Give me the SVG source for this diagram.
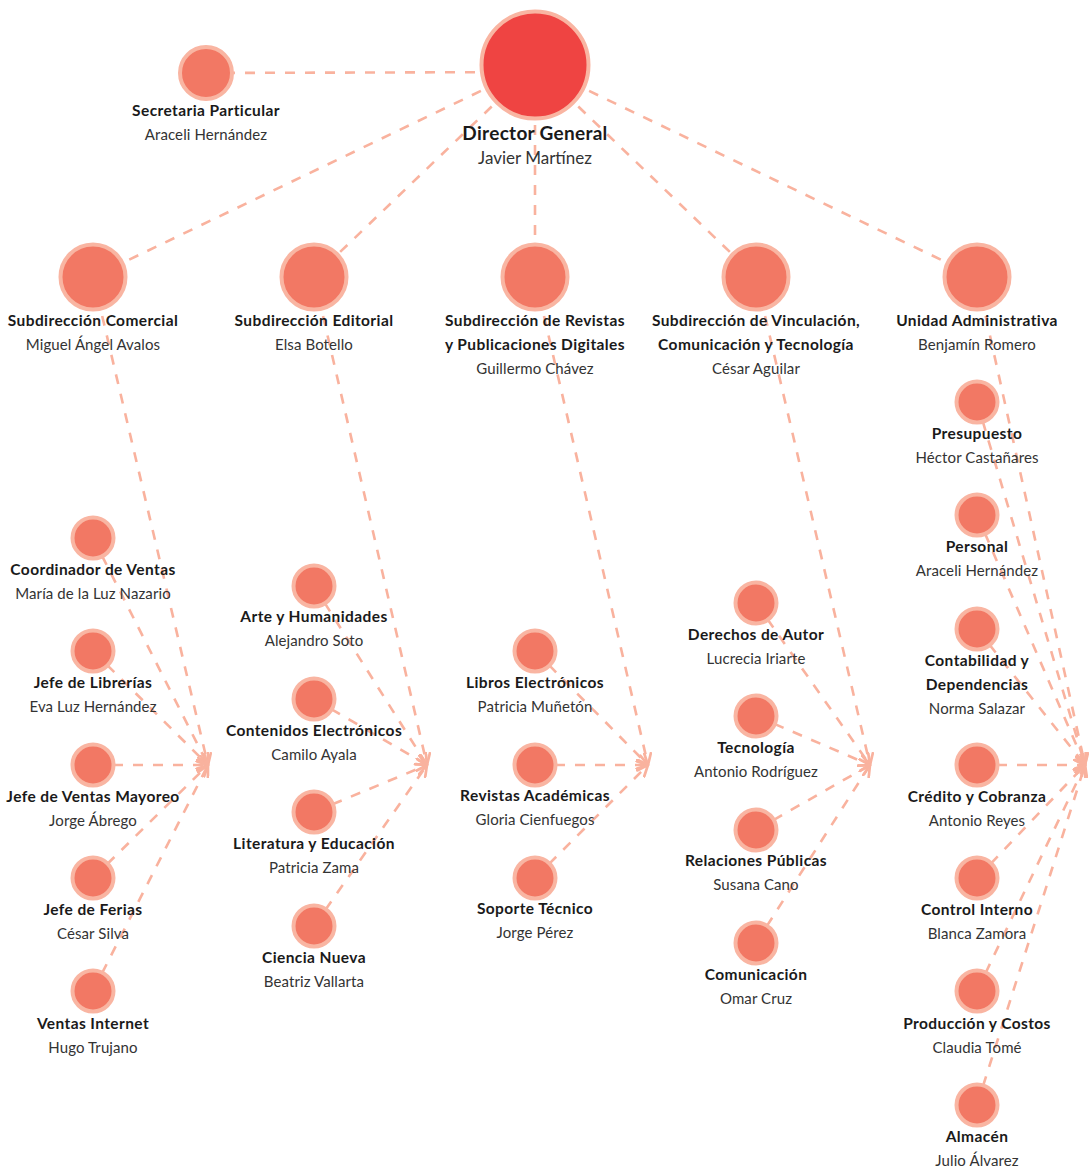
<svg xmlns="http://www.w3.org/2000/svg" width="1089" height="1171" viewBox="0 0 1089 1171">
<defs>
<marker id="arr" viewBox="0 0 12 12" refX="11" refY="6" markerWidth="13" markerHeight="13" markerUnits="userSpaceOnUse" orient="auto">
<path d="M1,1 L11,6 L1,11" fill="none" stroke="#F9B29E" stroke-width="2.5" stroke-linecap="round"/>
</marker>
<style>
.l{stroke:#F9B29E;stroke-width:2.6;stroke-dasharray:10 10;fill:none}
.a{marker-end:url(#arr)}
.n{fill:#F27864;stroke:#F9B5A2;stroke-width:4}
.d{fill:#EF4442;stroke:#F9B5A2;stroke-width:4}
.t{font-family:Lato,"Open Sans",sans-serif;font-weight:700;font-size:15.5px;letter-spacing:0.4px;fill:#1a1a1a;text-anchor:middle}
.s{font-family:Lato,"Open Sans",sans-serif;font-weight:400;font-size:15px;letter-spacing:0.1px;fill:#333;text-anchor:middle}
</style>
</defs>
<rect width="1089" height="1171" fill="#fff"/>
<g id="connectors">
<line class="l" x1="535" y1="72" x2="206" y2="73"/>
<line class="l" x1="535" y1="65" x2="93" y2="277"/>
<line class="l" x1="535" y1="65" x2="314" y2="277"/>
<line class="l" x1="535" y1="65" x2="535" y2="277"/>
<line class="l" x1="535" y1="65" x2="756" y2="277"/>
<line class="l" x1="535" y1="65" x2="977" y2="277"/>
<g class="a">
<line class="l" x1="93" y1="277" x2="208" y2="765"/>
<line class="l" x1="93" y1="538" x2="208" y2="765"/>
<line class="l" x1="93" y1="651" x2="208" y2="765"/>
<line class="l" x1="93" y1="765" x2="208" y2="765"/>
<line class="l" x1="93" y1="878" x2="208" y2="765"/>
<line class="l" x1="93" y1="991" x2="208" y2="765"/>
<line class="l" x1="314" y1="277" x2="427" y2="765"/>
<line class="l" x1="314" y1="586" x2="427" y2="765"/>
<line class="l" x1="314" y1="699" x2="427" y2="765"/>
<line class="l" x1="314" y1="812" x2="427" y2="765"/>
<line class="l" x1="314" y1="926" x2="427" y2="765"/>
<line class="l" x1="535" y1="277" x2="648" y2="765"/>
<line class="l" x1="535" y1="651" x2="648" y2="765"/>
<line class="l" x1="535" y1="765" x2="648" y2="765"/>
<line class="l" x1="535" y1="878" x2="648" y2="765"/>
<line class="l" x1="756" y1="277" x2="870" y2="765"/>
<line class="l" x1="756" y1="603" x2="870" y2="765"/>
<line class="l" x1="756" y1="716" x2="870" y2="765"/>
<line class="l" x1="756" y1="830" x2="870" y2="765"/>
<line class="l" x1="756" y1="943" x2="870" y2="765"/>
<line class="l" x1="977" y1="277" x2="1085" y2="765"/>
<line class="l" x1="977" y1="402" x2="1085" y2="765"/>
<line class="l" x1="977" y1="515" x2="1085" y2="765"/>
<line class="l" x1="977" y1="629" x2="1085" y2="765"/>
<line class="l" x1="977" y1="765" x2="1085" y2="765"/>
<line class="l" x1="977" y1="878" x2="1085" y2="765"/>
<line class="l" x1="977" y1="991" x2="1085" y2="765"/>
<line class="l" x1="977" y1="1105" x2="1085" y2="765"/>
</g>
</g>
<g id="director"><circle class="d" cx="535" cy="65" r="53.5"/><text class="t" x="535" y="140" style="font-size:19px;letter-spacing:0.3px">Director General</text><text class="s" x="535" y="164" style="font-size:17px;letter-spacing:0">Javier Martínez</text></g>
<g id="secretaria"><circle class="n" cx="206" cy="73" r="26"/><text class="t" x="206" y="116">Secretaria Particular</text><text class="s" x="206" y="140">Araceli Hernández</text></g>
<g id="sub-comercial"><circle class="n" cx="93" cy="277" r="32.5"/><text class="t" x="93" y="326">Subdirección Comercial</text><text class="s" x="93" y="350">Miguel Ángel Avalos</text></g>
<g id="sub-editorial"><circle class="n" cx="314" cy="277" r="32.5"/><text class="t" x="314" y="326">Subdirección Editorial</text><text class="s" x="314" y="350">Elsa Botello</text></g>
<g id="sub-revistas"><circle class="n" cx="535" cy="277" r="32.5"/><text class="t" x="535" y="326">Subdirección de Revistas</text><text class="t" x="535" y="350">y Publicaciones Digitales</text><text class="s" x="535" y="374">Guillermo Chávez</text></g>
<g id="sub-vinculacion"><circle class="n" cx="756" cy="277" r="32.5"/><text class="t" x="756" y="326">Subdirección de Vinculación,</text><text class="t" x="756" y="350">Comunicación y Tecnología</text><text class="s" x="756" y="374">César Aguilar</text></g>
<g id="unidad-admin"><circle class="n" cx="977" cy="277" r="32.5"/><text class="t" x="977" y="326">Unidad Administrativa</text><text class="s" x="977" y="350">Benjamín Romero</text></g>
<g id="coord-ventas"><circle class="n" cx="93" cy="538" r="20.5"/><text class="t" x="93" y="575">Coordinador de Ventas</text><text class="s" x="93" y="599">María de la Luz Nazario</text></g>
<g id="jefe-librerias"><circle class="n" cx="93" cy="651" r="20.5"/><text class="t" x="93" y="688">Jefe de Librerías</text><text class="s" x="93" y="712">Eva Luz Hernández</text></g>
<g id="jefe-mayoreo"><circle class="n" cx="93" cy="765" r="20.5"/><text class="t" x="93" y="802">Jefe de Ventas Mayoreo</text><text class="s" x="93" y="826">Jorge Ábrego</text></g>
<g id="jefe-ferias"><circle class="n" cx="93" cy="878" r="20.5"/><text class="t" x="93" y="915">Jefe de Ferias</text><text class="s" x="93" y="939">César Silva</text></g>
<g id="ventas-internet"><circle class="n" cx="93" cy="991" r="20.5"/><text class="t" x="93" y="1029">Ventas Internet</text><text class="s" x="93" y="1053">Hugo Trujano</text></g>
<g id="arte"><circle class="n" cx="314" cy="586" r="20.5"/><text class="t" x="314" y="622">Arte y Humanidades</text><text class="s" x="314" y="646">Alejandro Soto</text></g>
<g id="contenidos"><circle class="n" cx="314" cy="699" r="20.5"/><text class="t" x="314" y="736">Contenidos Electrónicos</text><text class="s" x="314" y="760">Camilo Ayala</text></g>
<g id="literatura"><circle class="n" cx="314" cy="812" r="20.5"/><text class="t" x="314" y="849">Literatura y Educación</text><text class="s" x="314" y="873">Patricia Zama</text></g>
<g id="ciencia"><circle class="n" cx="314" cy="926" r="20.5"/><text class="t" x="314" y="963">Ciencia Nueva</text><text class="s" x="314" y="987">Beatriz Vallarta</text></g>
<g id="libros"><circle class="n" cx="535" cy="651" r="20.5"/><text class="t" x="535" y="688">Libros Electrónicos</text><text class="s" x="535" y="712">Patricia Muñetón</text></g>
<g id="revistas-academicas"><circle class="n" cx="535" cy="765" r="20.5"/><text class="t" x="535" y="801">Revistas Académicas</text><text class="s" x="535" y="825">Gloria Cienfuegos</text></g>
<g id="soporte"><circle class="n" cx="535" cy="878" r="20.5"/><text class="t" x="535" y="914">Soporte Técnico</text><text class="s" x="535" y="938">Jorge Pérez</text></g>
<g id="derechos"><circle class="n" cx="756" cy="603" r="20.5"/><text class="t" x="756" y="640">Derechos de Autor</text><text class="s" x="756" y="664">Lucrecia Iriarte</text></g>
<g id="tecnologia"><circle class="n" cx="756" cy="716" r="20.5"/><text class="t" x="756" y="753">Tecnología</text><text class="s" x="756" y="777">Antonio Rodríguez</text></g>
<g id="relaciones"><circle class="n" cx="756" cy="830" r="20.5"/><text class="t" x="756" y="866">Relaciones Públicas</text><text class="s" x="756" y="890">Susana Cano</text></g>
<g id="comunicacion"><circle class="n" cx="756" cy="943" r="20.5"/><text class="t" x="756" y="980">Comunicación</text><text class="s" x="756" y="1004">Omar Cruz</text></g>
<g id="presupuesto"><circle class="n" cx="977" cy="402" r="20.5"/><text class="t" x="977" y="439">Presupuesto</text><text class="s" x="977" y="463">Héctor Castañares</text></g>
<g id="personal"><circle class="n" cx="977" cy="515" r="20.5"/><text class="t" x="977" y="552">Personal</text><text class="s" x="977" y="576">Araceli Hernández</text></g>
<g id="contabilidad"><circle class="n" cx="977" cy="629" r="20.5"/><text class="t" x="977" y="666">Contabilidad y</text><text class="t" x="977" y="690">Dependencias</text><text class="s" x="977" y="714">Norma Salazar</text></g>
<g id="credito"><circle class="n" cx="977" cy="765" r="20.5"/><text class="t" x="977" y="802">Crédito y Cobranza</text><text class="s" x="977" y="826">Antonio Reyes</text></g>
<g id="control"><circle class="n" cx="977" cy="878" r="20.5"/><text class="t" x="977" y="915">Control Interno</text><text class="s" x="977" y="939">Blanca Zamora</text></g>
<g id="produccion"><circle class="n" cx="977" cy="991" r="20.5"/><text class="t" x="977" y="1029">Producción y Costos</text><text class="s" x="977" y="1053">Claudia Tomé</text></g>
<g id="almacen"><circle class="n" cx="977" cy="1105" r="20.5"/><text class="t" x="977" y="1142">Almacén</text><text class="s" x="977" y="1166">Julio Álvarez</text></g>
</svg>
